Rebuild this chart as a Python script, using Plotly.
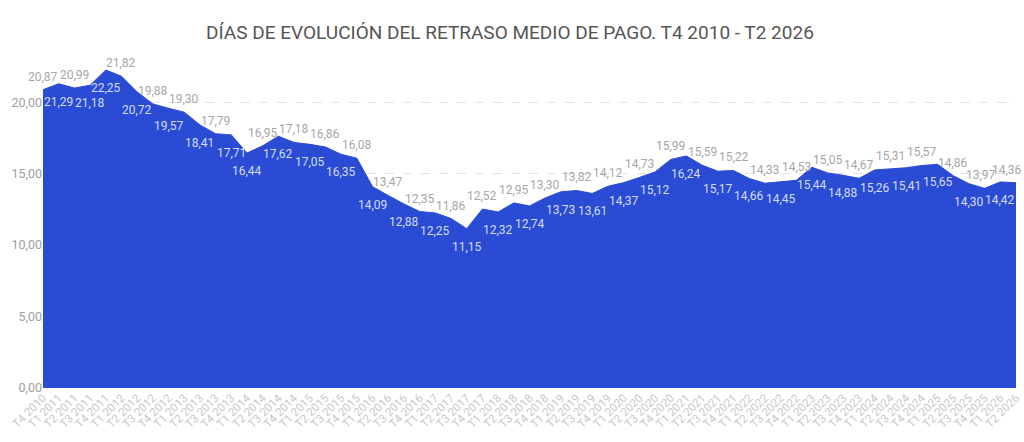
import plotly.graph_objects as go

quarters = [
    "T4 2010",
    "T1 2011", "T2 2011", "T3 2011", "T4 2011",
    "T1 2012", "T2 2012", "T3 2012", "T4 2012",
    "T1 2013", "T2 2013", "T3 2013", "T4 2013",
    "T1 2014", "T2 2014", "T3 2014", "T4 2014",
    "T1 2015", "T2 2015", "T3 2015", "T4 2015",
    "T1 2016", "T2 2016", "T3 2016", "T4 2016",
    "T1 2017", "T2 2017", "T3 2017", "T4 2017",
    "T1 2018", "T2 2018", "T3 2018", "T4 2018",
    "T1 2019", "T2 2019", "T3 2019", "T4 2019",
    "T1 2020", "T2 2020", "T3 2020", "T4 2020",
    "T1 2021", "T2 2021", "T3 2021", "T4 2021",
    "T1 2022", "T2 2022", "T3 2022", "T4 2022",
    "T1 2023", "T2 2023", "T3 2023", "T4 2023",
    "T1 2024", "T2 2024", "T3 2024", "T4 2024",
    "T1 2025", "T2 2025", "T3 2025", "T4 2025",
    "T1 2026", "T2 2026",
]

days = [
    20.87, 21.29, 20.99, 21.18, 22.25, 21.82, 20.72, 19.88, 19.57, 19.30,
    18.41, 17.79, 17.71, 16.44, 16.95, 17.62, 17.18, 17.05, 16.86, 16.35,
    16.08, 14.09, 13.47, 12.88, 12.35, 12.25, 11.86, 11.15, 12.52, 12.32,
    12.95, 12.74, 13.30, 13.73, 13.82, 13.61, 14.12, 14.37, 14.73, 15.12,
    15.99, 16.24, 15.59, 15.17, 15.22, 14.66, 14.33, 14.45, 14.53, 15.44,
    15.05, 14.88, 14.67, 15.26, 15.31, 15.41, 15.57, 15.65, 14.86, 14.30,
    13.97, 14.42, 14.36,
]

y_ticks = [0, 5, 10, 15, 20]

# label placement style: indices whose label sits below the line
labels_below = {1, 3, 4, 6, 8, 10, 12, 13, 15, 17, 19, 21, 23, 25, 27, 29, 31,
                33, 35, 37, 39, 41, 43, 45, 47, 49, 51, 53, 55, 57, 59, 61}

AREA = "#2a4bd4"
FONT = "Roboto"

fig = go.Figure()
fig.add_trace(go.Scatter(
    x=quarters, y=days, mode="lines", fill="tozeroy",
    fillcolor=AREA, line=dict(color=AREA, width=1),
    hoverinfo="skip",
))

annotations = []
last = len(days) - 1
for i, (q, v) in enumerate(zip(quarters, days)):
    below = i in labels_below
    xshift = 0
    if i == last:
        xshift = 8
    elif i == last - 2:
        xshift = -4
    annotations.append(dict(
        x=q, y=v, xref="x", yref="y",
        text=f"{v:.2f}".replace(".", ","),
        showarrow=False, yanchor="middle",
        xanchor="right" if i == last else "center",
        xshift=xshift,
        yshift=-18 if below else 13,
        font=dict(family=FONT, size=12,
                  color="#d6ddf8" if below else "#a6a6a6"),
    ))

fig.update_layout(
    width=1024, height=442,
    margin=dict(l=43, r=8, t=45, b=54),
    paper_bgcolor="white", plot_bgcolor="white",
    separators=",.",
    showlegend=False,
    title=dict(text="DÍAS DE EVOLUCIÓN DEL RETRASO MEDIO DE PAGO. T4 2010 - T2 2026",
               x=0.498, xanchor="center", xref="container",
               y=1 - 32 / 442, yref="container", yanchor="middle",
               font=dict(family=FONT, size=19, color="#555555")),
    annotations=annotations,
    font=dict(family=FONT),
)

fig.update_xaxes(
    type="category", range=[0, len(quarters) - 1],
    showgrid=False, showline=False, zeroline=False, ticks="",
    tickangle=-45, tickfont=dict(family=FONT, size=11.5, color="#c8c8c8"),
    automargin=False,
)
fig.update_yaxes(
    range=[0, 24], tickvals=y_ticks, tickformat=".2f",
    showgrid=True, gridcolor="#e2e2e2", griddash="dash", gridwidth=1,
    zeroline=False, showline=False, ticks="",
    tickfont=dict(family=FONT, size=12.5, color="#a0a0a0"),
    automargin=False,
)

fig.write_html("out.html")
